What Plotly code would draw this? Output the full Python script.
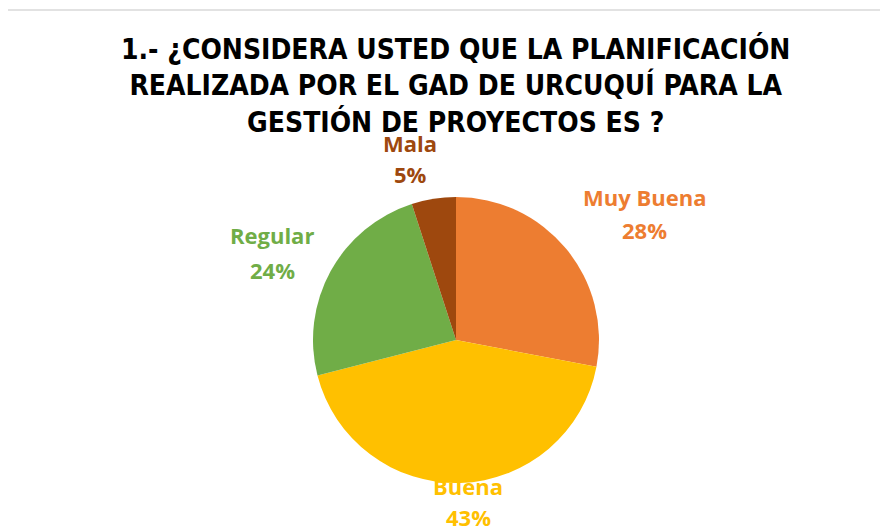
import plotly.graph_objects as go

# Data
categories = ['Muy Buena', 'Buena', 'Regular', 'Mala']
percentages = [28, 43, 24, 5]
colors = ['#ED7D31', '#FFC000', '#70AD47', '#9E480E']

TITLE = ('1.- ¿CONSIDERA USTED QUE LA PLANIFICACIÓN<br>'
         'REALIZADA POR EL GAD DE URCUQUÍ PARA LA<br>'
         'GESTIÓN DE PROYECTOS ES ?')

# page body has an 8px margin, so the figure is a bit smaller than the window
OFF = 8
W, H = 888 - OFF, 529 - OFF
# pie centre / radius in window pixels
CX, CY, R = 456, 340, 143

# label centres (window pixels): x, name line y, percent line y
label_pos = {
    'Muy Buena': (644, 197, 230),
    'Buena': (468, 486, 517),
    'Regular': (272, 235, 270),
    'Mala': (410, 143, 174),
}


def px(x):
    return (x - OFF) / W


def py(y):
    return 1 - (y - OFF) / H


fig = go.Figure()
fig.add_trace(
    go.Pie(labels=categories,
           values=percentages,
           marker=dict(colors=colors, line=dict(width=0)),
           sort=False,
           direction='clockwise',
           rotation=0,
           textinfo='none',
           showlegend=False,
           domain=dict(x=[px(CX - R), px(CX + R)],
                       y=[py(CY + R), py(CY - R)]))
)

annotations = []
for cat, val, col in zip(categories, percentages, colors):
    x, y1, y2 = label_pos[cat]
    for txt, yy in ((cat, y1), (f'{val}%', y2)):
        annotations.append(dict(
            text=f'<b>{txt}</b>', x=px(x), y=py(yy), xref='paper', yref='paper',
            xanchor='center', yanchor='middle', showarrow=False,
            font=dict(family='Open Sans, sans-serif', size=22, color=col)))

annotations.append(dict(
    text=f'<b>{TITLE}</b>', x=px(456), y=py(86), xref='paper', yref='paper',
    xanchor='center', yanchor='middle', showarrow=False,
    font=dict(family='DejaVu Sans Condensed, DejaVu Sans', size=28, color='#000000')))

fig.update_layout(
    width=W, height=H,
    margin=dict(l=0, r=0, t=0, b=0),
    paper_bgcolor='white',
    plot_bgcolor='white',
    annotations=annotations,
    shapes=[dict(type='line', xref='paper', yref='paper',
                 x0=0, x1=1, y0=py(10), y1=py(10),
                 line=dict(color='#D9D9D9', width=1.5), layer='below')],
)

fig.write_html("out.html")
